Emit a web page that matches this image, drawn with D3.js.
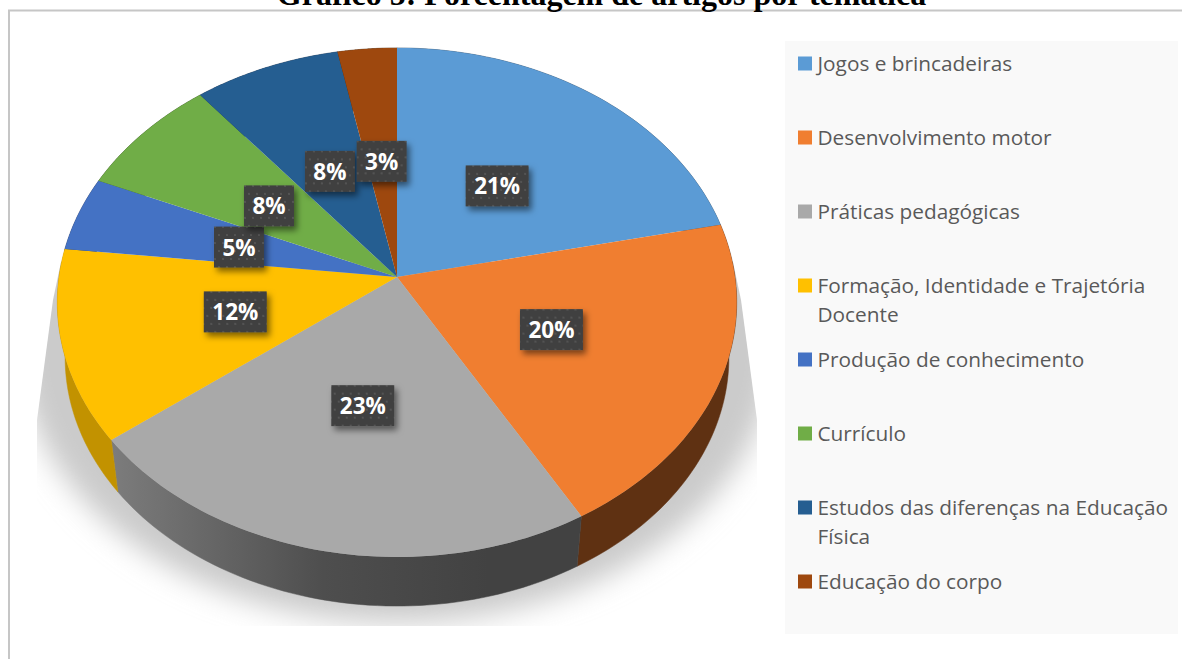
<!DOCTYPE html>
<html lang="pt">
<head>
<meta charset="UTF-8">
<title>Gráfico 5</title>
<script src="https://d3js.org/d3.v7.min.js"></script>
<style>
  html, body { margin: 0; padding: 0; background: #fff; overflow: hidden; }
  svg { display: block; }
</style>
</head>
<body>
<script>
const titleText = "Gráfico 5: Porcentagem de artigos por temática";
const categories = [
  "Jogos e brincadeiras",
  "Desenvolvimento motor",
  "Práticas pedagógicas",
  "Formação, Identidade e Trajetória Docente",
  "Produção de conhecimento",
  "Currículo",
  "Estudos das diferenças na Educação Física",
  "Educação do corpo"
];
const values = [21.6, 20.1, 22.9, 12.2, 4.7, 7.7, 7.7, 3.1];
const percentLabels = ["21%", "20%", "23%", "12%", "5%", "8%", "8%", "3%"];
const topColors = ["#5b9bd5", "#f07e30", "#a9a9a9", "#ffc000", "#4472c4", "#70ad47", "#255e91", "#9e480e"];
const sideColors = ["#2f5070", "#5f3112", "url(#graySide)", "#c29200", "#23396a", "#3a5a24", "#133050", "#4f2407"];

const w = 1182, h = 659;
const svg = d3.select("body").append("svg").attr("width", w).attr("height", h);
const defs = svg.append("defs");

// tilted disc: perspective projection of the unit circle
const cx = 397, cy = 277, rx = 338, ry = 252, k = 0.1;
const depthScale = 0.977, depthDrop = 55.5;
const project = (a, r, bottom) => {
  const X = r * Math.sin(a), Y = -r * Math.cos(a);
  const s = 1 / (1 - k * Y);
  const f = bottom ? depthScale : 1;
  return [cx + rx * X * s * f, cy + ry * Y * s * f + (bottom ? depthDrop : 0)];
};
const line = d3.line();
const arcSamples = (d) => d3.range(0, 61).map(i => d.startAngle + (d.endAngle - d.startAngle) * i / 60);

const pie = d3.pie().sort(null)(values);

// gradient on the gray wall
const grad = defs.append("linearGradient").attr("id", "graySide")
  .attr("gradientUnits", "userSpaceOnUse")
  .attr("x1", 112).attr("x2", 582).attr("y1", 0).attr("y2", 0);
grad.append("stop").attr("offset", "0").attr("stop-color", "#7c7c7c");
grad.append("stop").attr("offset", "0.45").attr("stop-color", "#4e4e4e");
grad.append("stop").attr("offset", "0.8").attr("stop-color", "#424242");

defs.append("filter").attr("id", "blur").attr("x", "-20%").attr("y", "-20%").attr("width", "140%").attr("height", "140%")
  .append("feGaussianBlur").attr("stdDeviation", 14);

const boxShadow = defs.append("filter").attr("id", "boxShadow").attr("x", "-30%").attr("y", "-30%").attr("width", "170%").attr("height", "170%");
boxShadow.append("feDropShadow").attr("dx", 3).attr("dy", 4).attr("stdDeviation", 3)
  .attr("flood-color", "#000").attr("flood-opacity", 0.5);

// dotted texture of the labels
const pat = defs.append("pattern").attr("id", "dots").attr("patternUnits", "userSpaceOnUse")
  .attr("width", 16).attr("height", 16);
pat.append("rect").attr("width", 16).attr("height", 16).attr("fill", "#404040");
[[4, 4], [12, 4], [0, 12], [8, 12], [16, 12]].forEach(p => {
  pat.append("circle").attr("cx", p[0]).attr("cy", p[1]).attr("r", 1.1).attr("fill", "#585858");
});

defs.append("clipPath").attr("id", "shadowClip").append("polygon")
  .attr("points", "733,262 741,300 757,420 757,626 37,626 37,420 53,300 61,262");

// floor shadow
svg.append("g").attr("clip-path", "url(#shadowClip)")
  .append("ellipse")
  .attr("cx", cx).attr("cy", 345).attr("rx", 378).attr("ry", 278)
  .attr("fill", "#cbcbcb").attr("filter", "url(#blur)");

// frame
svg.append("path").attr("d", `M9,${h} V10.5 H${w}`).attr("fill", "none").attr("stroke", "#c6c6c6").attr("stroke-width", 2);

// title, cut by the top of the page like the scan
svg.append("text").attr("x", 601.5).attr("y", 5).attr("text-anchor", "middle")
  .attr("font-family", "'Liberation Serif', serif").attr("font-weight", "bold").attr("font-size", 32)
  .attr("fill", "#000").text(titleText);

// walls
svg.append("g").selectAll("path").data(pie).join("path")
  .attr("d", d => {
    const angles = arcSamples(d);
    return line(angles.map(a => project(a, 1, false)).concat(angles.slice().reverse().map(a => project(a, 1, true)))) + "Z";
  })
  .attr("fill", (d, i) => sideColors[i])
  .attr("stroke", (d, i) => sideColors[i]).attr("stroke-width", 0.5);

// top face
svg.append("g").selectAll("path").data(pie).join("path")
  .attr("d", d => line([project(0, 0, false)].concat(arcSamples(d).map(a => project(a, 1, false)))) + "Z")
  .attr("fill", (d, i) => topColors[i]);

// data labels
const labelRadius = 0.49;
const labels = svg.append("g").selectAll("g").data(pie).join("g")
  .attr("transform", d => {
    const p = project((d.startAngle + d.endAngle) / 2, labelRadius, false);
    return `translate(${p[0]},${p[1] + 1.5})`;
  });
labels.append("rect")
  .attr("x", (d, i) => percentLabels[i].length === 3 ? -31.5 : -25)
  .attr("y", -20.5)
  .attr("width", (d, i) => percentLabels[i].length === 3 ? 63 : 50)
  .attr("height", 41)
  .attr("fill", "url(#dots)")
  .attr("filter", "url(#boxShadow)");
labels.append("text").attr("text-anchor", "middle").attr("y", 8.5)
  .attr("font-family", "'Open Sans', sans-serif").attr("font-weight", "bold").attr("font-size", 22.5)
  .attr("fill", "#fff").text((d, i) => percentLabels[i]);

// legend
svg.append("rect").attr("x", 785).attr("y", 41).attr("width", 393).attr("height", 593).attr("fill", "#f9f9f9");
const legendY = d3.scalePoint().domain(categories).range([63, 581]);
const legend = svg.append("g").selectAll("g").data(categories).join("g")
  .attr("transform", d => `translate(798,${legendY(d)})`);
legend.append("rect").attr("y", -6.5).attr("width", 14).attr("height", 14).attr("fill", (d, i) => topColors[i]);
legend.append("text")
  .attr("x", 19.5).attr("y", 8)
  .attr("font-family", "'Open Sans', sans-serif").attr("font-size", 20.8)
  .attr("fill", "#595959")
  .each(function (d) {
    // wrap long names on the legend width
    const el = d3.select(this);
    let row = el.append("tspan").attr("x", 19.5);
    let current = "";
    d.split(" ").forEach(word => {
      const next = current ? current + " " + word : word;
      row.text(next);
      if (this.getComputedTextLength() > 356 && current) {
        row.text(current);
        row = el.append("tspan").attr("x", 19.5).attr("dy", 29).text(word);
        current = word;
      } else {
        current = next;
      }
    });
  });
</script>
</body>
</html>
